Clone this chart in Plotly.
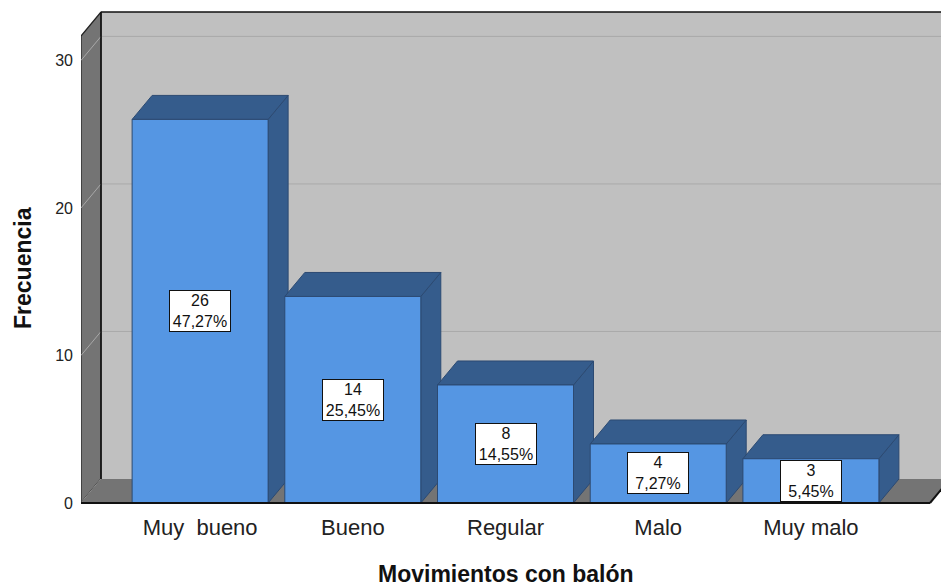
import plotly.graph_objects as go

# ---- data ----
categories = ["Muy  bueno", "Bueno", "Regular", "Malo", "Muy malo"]
counts = [26, 14, 8, 4, 3]
pct_labels = ["47,27%", "25,45%", "14,55%", "7,27%", "5,45%"]
y_ticks = [0, 10, 20, 30]
x_title = "Movimientos con balón"
y_title = "Frecuencia"

# ---- geometry / style (pixels -> axis units) ----
W, H = 941, 586
PLOT_L, PLOT_R = 81, 941          # plot area in pixels
PLOT_T, PLOT_B = 10, 506
PX_PER_CAT = 152.7
PX_PER_UNIT = 14.753
X_LO = -0.78                       # left edge of front plane (category units)
X_HI = X_LO + (PLOT_R - PLOT_L) / PX_PER_CAT
X_FLOOR_R = 4.78                   # right edge of front floor edge
Y_LO = -(PLOT_B - 503) / PX_PER_UNIT
Y_HI = Y_LO + (PLOT_B - PLOT_T) / PX_PER_UNIT
DX = 20 / PX_PER_CAT               # depth offset of the 3D projection
DY = 24 / PX_PER_UNIT
BAR_W = 136 / PX_PER_CAT
WALL_TOP = (503 - 12) / PX_PER_UNIT

FRONT = "#5596e3"
DARKSIDE = "#355c8c"
EDGE = "#2c4a72"
WALL = "#747474"
BACK = "#c0c0c0"
FONT = "Liberation Sans, Arial, sans-serif"

fig = go.Figure()


def poly(xs, ys, fill, line="rgba(0,0,0,0)", lw=1):
    fig.add_trace(go.Scatter(
        x=list(xs) + [xs[0]], y=list(ys) + [ys[0]], mode="lines",
        fill="toself", fillcolor=fill, line=dict(color=line, width=lw),
        hoverinfo="skip", showlegend=False))


def seg(xs, ys, color, lw=1, dash=None):
    fig.add_trace(go.Scatter(
        x=xs, y=ys, mode="lines", line=dict(color=color, width=lw, dash=dash),
        hoverinfo="skip", showlegend=False))


# back wall
poly([X_LO + DX, X_HI + 0.2, X_HI + 0.2, X_LO + DX],
     [DY, DY, WALL_TOP, WALL_TOP], BACK)
seg([X_LO + DX, X_HI + 0.2], [WALL_TOP, WALL_TOP], "#111111", 1.5)
# back wall gridlines
for t in y_ticks[1:]:
    seg([X_LO + DX, X_HI + 0.2], [t + DY, t + DY], "#a9a9a9", 1)

# left wall
poly([X_LO, X_LO + DX, X_LO + DX, X_LO],
     [0, DY, WALL_TOP, WALL_TOP - DY], WALL, "#222222", 1.2)
for t in y_ticks:
    seg([X_LO, X_LO + DX], [t, t + DY], "#a8a8a8", 1)

# floor
poly([X_LO, X_FLOOR_R, X_FLOOR_R + DX, X_LO + DX], [0, 0, DY, DY], WALL)
seg([X_LO + DX, X_LO + DX], [DY, WALL_TOP], "#111111", 1.5)

# bars, left to right
for i, v in enumerate(counts):
    x0, x1 = i - BAR_W / 2, i + BAR_W / 2
    poly([x1, x1 + DX, x1 + DX, x1], [0, DY, v + DY, v], DARKSIDE, EDGE, 1)
    poly([x0, x1, x1 + DX, x0 + DX], [v, v, v + DY, v + DY], DARKSIDE, EDGE, 1)
    poly([x0, x1, x1, x0], [0, 0, v, v], FRONT, EDGE, 1)

# floor front edges
seg([X_LO, X_FLOOR_R], [0, 0], "#111111", 2)
seg([X_FLOOR_R, X_FLOOR_R + DX], [0, DY], "#111111", 2)

# data labels
for i, (v, p) in enumerate(zip(counts, pct_labels)):
    fig.add_annotation(
        x=i, y=v / 2, xref="x", yref="y", text=f"{v}<br>{p}",
        showarrow=False, bgcolor="white", bordercolor="#111111",
        borderwidth=1, borderpad=1, width=58, height=38,
        font=dict(family=FONT, size=16, color="#111111"))

# axis titles
fig.add_annotation(
    x=(23 - PLOT_L) / (PLOT_R - PLOT_L), y=(PLOT_B - 268) / (PLOT_B - PLOT_T),
    xref="paper", yref="paper", text=f"<b>{y_title}</b>", textangle=-90,
    showarrow=False, xanchor="center", yanchor="middle",
    font=dict(family=FONT, size=23, color="#111111"))
fig.add_annotation(
    x=(506 - PLOT_L) / (PLOT_R - PLOT_L), y=(PLOT_B - 574) / (PLOT_B - PLOT_T),
    xref="paper", yref="paper", text=f"<b>{x_title}</b>", height=22,
    showarrow=False, xanchor="center", yanchor="middle",
    font=dict(family=FONT, size=23, color="#111111"))

fig.update_layout(
    width=W, height=H,
    margin=dict(l=PLOT_L, r=W - PLOT_R, t=PLOT_T, b=H - PLOT_B, autoexpand=False),
    paper_bgcolor="white", plot_bgcolor="white",
    showlegend=False,
    xaxis=dict(range=[X_LO, X_HI], tickvals=list(range(len(categories))),
               ticktext=[c.replace("  ", "\u00a0 ") for c in categories],
               showgrid=False, zeroline=False, showline=False, ticks="",
               ticklabelstandoff=6,
               tickfont=dict(family=FONT, size=22, color="#222222"),
               fixedrange=True),
    yaxis=dict(range=[Y_LO, Y_HI], tickvals=y_ticks,
               showgrid=False, zeroline=False, showline=False, ticks="",
               ticklabelstandoff=7,
               tickfont=dict(family=FONT, size=16, color="#222222"),
               fixedrange=True),
)

fig.write_html(
    "out.html",
    config={"displayModeBar": False},
    post_script="document.body.style.margin='0px';document.body.style.overflow='hidden';",
)
